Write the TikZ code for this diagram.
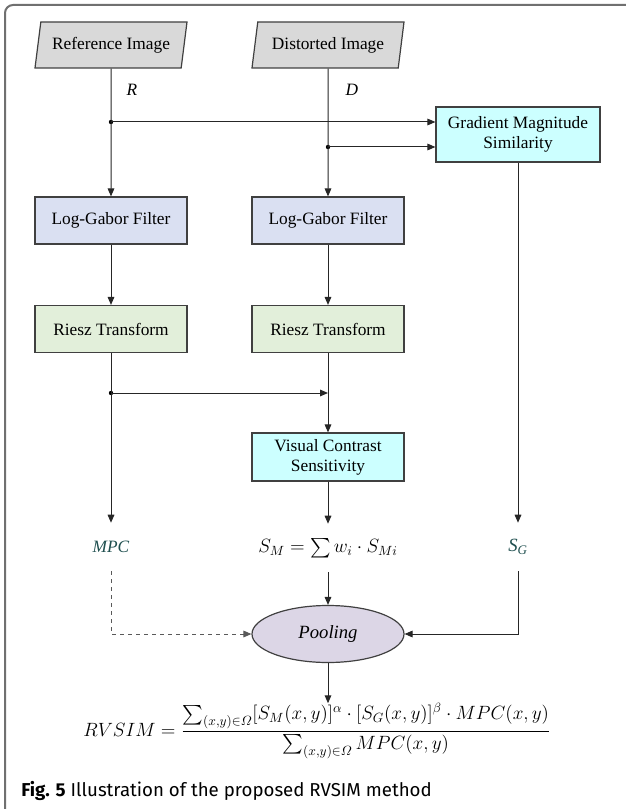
\documentclass[tikz,border=0pt]{standalone}
\usepackage{amsmath}
\usepackage{amssymb}
\usepackage{xcolor}
\usepackage{fontspec}
\setmainfont{Liberation Serif}
\newfontfamily\capfont{Fira Sans}
\usepackage{tikz}
\usetikzlibrary{shapes.geometric,arrows.meta}

\definecolor{imggray}{HTML}{D9D9D9}
\definecolor{gaborblue}{HTML}{DAE0F2}
\definecolor{rieszgreen}{HTML}{E2EFDA}
\definecolor{cyanbox}{HTML}{CCFFFF}
\definecolor{poolpurple}{HTML}{DCD6E6}
\definecolor{labelteal}{HTML}{1F4F4F}
\definecolor{linegray}{HTML}{404040}
\definecolor{framegray}{HTML}{707070}

\begin{document}
\begin{tikzpicture}[x=0.75pt,y=0.75pt,yscale=-1,xscale=1,
  box/.style={draw=linegray, line width=0.9pt, minimum width=114pt, minimum height=35.25pt, inner sep=0.75pt, align=center, font=\fontsize{13}{15}\selectfont},
  img/.style={box, fill=imggray, shape=trapezium, trapezium left angle=72, trapezium right angle=108, trapezium stretches body, minimum height=34.5pt},
  flow/.style={-{Triangle[length=6pt,width=5pt]}, line width=0.75pt, draw=black!85},
  result/.style={inner sep=0pt, minimum height=36pt, font=\fontsize{13}{15}\selectfont}]

\useasboundingbox (0,0) rectangle (625,809);

\draw[framegray, line width=1.5pt, rounded corners=6pt] (5,830) -- (5,5) -- (650,5);

% inputs
\node[img] (ref) at (111,45) {Reference Image};
\node[img] (dist) at (328,45) {Distorted Image};

\node (lr) at (132,90) {\fontsize{13}{15}\selectfont\textit{R}};
\node (ld) at (352,90) {\fontsize{13}{15}\selectfont\textit{D}};

% processing boxes
\node[box, fill=gaborblue] (lgr) at (111,220.5) {Log-Gabor Filter};
\node[box, fill=gaborblue] (lgd) at (328,220.5) {Log-Gabor Filter};
\node[box, fill=rieszgreen] (rzr) at (111,329) {Riesz Transform};
\node[box, fill=rieszgreen] (rzd) at (328,329) {Riesz Transform};
\node[box, fill=cyanbox, minimum width=123pt, minimum height=41.25pt] (gms) at (518,134.5) {Gradient Magnitude\\Similarity};
\node[box, fill=cyanbox, minimum height=36pt] (vcs) at (328,457) {Visual Contrast\\Sensitivity};

% maps
\node[result, text=labelteal] (mpc) at (111,547) {\textit{MPC}};
\node[result, font=\fontsize{14.6}{17}\selectfont] (sm) at (328,548) {$S_M=\sum w_i\cdot S_{Mi}$};
\node[result, text=labelteal, font=\fontsize{14}{16}\selectfont] (sg) at (518,547) {\textit{S\textsubscript{G}}};

\node[draw=linegray, line width=0.9pt, fill=poolpurple, shape=ellipse, minimum width=114pt, minimum height=42.75pt, inner sep=0pt, font=\fontsize{14}{16}\selectfont] (pool) at (328,634) {\textit{Pooling}};

\node[inner sep=0pt, font=\fontsize{14.7}{18}\selectfont] (rvsim) at (317,731) {$RVSIM=\dfrac{\sum_{(x,y)\in\varOmega}[S_M(x,y)]^{\alpha}\cdot[S_G(x,y)]^{\beta}\cdot MPC(x,y)}{\sum_{(x,y)\in\varOmega}MPC(x,y)}$};

\node[anchor=base west, inner sep=0pt, font=\capfont\fontsize{14}{16}\selectfont] (cap) at (21,796) {\textbf{Fig. 5} Illustration of the proposed RVSIM method};

% junctions
\coordinate (jr) at (111,122);
\coordinate (jd) at (328,147);
\coordinate (jm) at (111,393);
\fill (jr) circle (2.2);
\fill (jd) circle (2.2);
\fill (jm) circle (2.2);

% connectors
\draw[flow] (ref) -- (lgr);
\draw[flow] (dist) -- (lgd);
\draw[flow] (jr) -- (jr -| gms.west);
\draw[flow] (jd) -- (jd -| gms.west);
\draw[flow] (lgr) -- (rzr);
\draw[flow] (lgd) -- (rzd);
\draw[flow] (rzd) -- (vcs);
\draw[flow] (jm) -- (jm -| vcs);
\draw[flow] (rzr) -- (mpc);
\draw[flow] (vcs) -- (sm);
\draw[flow] (gms) -- (sg);
\draw[flow, dashed, draw=black!65] (mpc) |- (pool);
\draw[flow] (sg) |- (pool);
\draw[flow] (sm) -- (pool);
\draw[flow] (pool) -- (pool |- rvsim.north);

\end{tikzpicture}
\end{document}
